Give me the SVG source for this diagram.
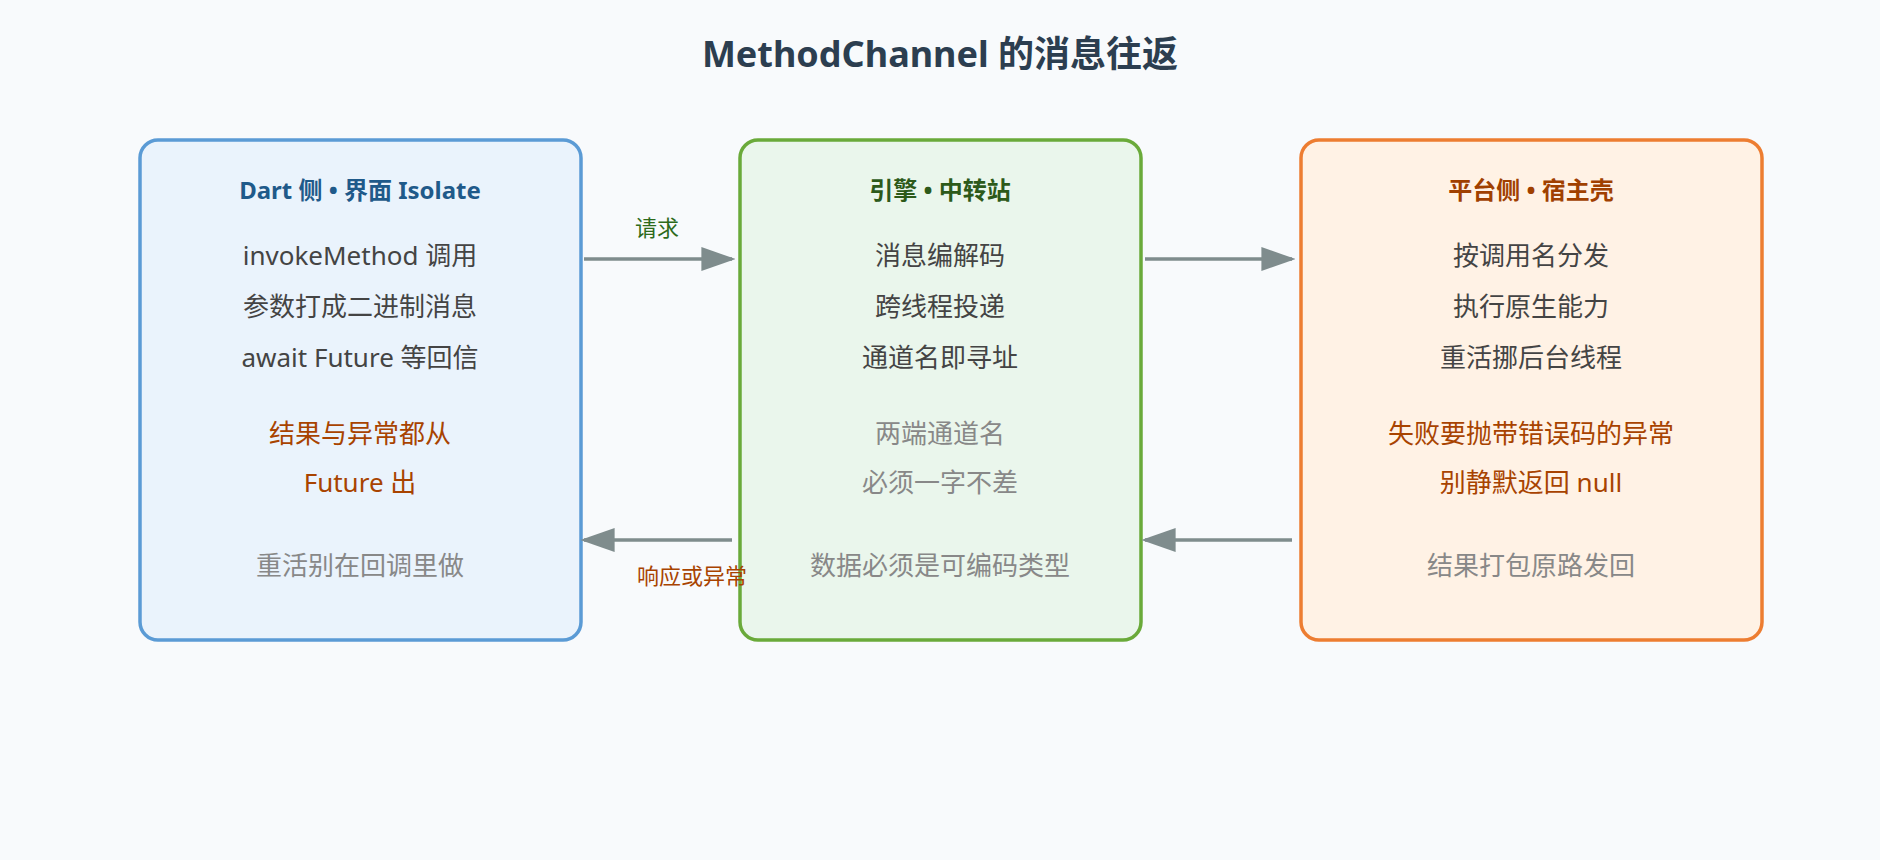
<svg xmlns="http://www.w3.org/2000/svg" width="1880" height="860" viewBox="0 0 1880 860">
<defs>
<marker id="ah" viewBox="0 0 10 10" refX="9" refY="5" markerWidth="10" markerHeight="10" markerUnits="userSpaceOnUse" orient="auto"><path d="M0,0 L10,5 L0,10 z" fill="#7f8c8d"/></marker>
<marker id="ah2" viewBox="0 0 10 10" refX="9" refY="5" markerWidth="34" markerHeight="24" markerUnits="userSpaceOnUse" orient="auto" preserveAspectRatio="none"><path d="M0,0 L10,5 L0,10 z" fill="#7f8c8d"/></marker>
</defs>
<style>
text{font-family:"Noto Sans","Noto Sans CJK SC",sans-serif;text-anchor:middle}
.t{font-size:36px;font-weight:bold;fill:#2c3e50}
.h{font-size:24px;font-weight:bold}
.b{font-size:26px;fill:#444}
.o{font-size:26px;fill:#a84300}
.g{font-size:26px;fill:#888}
.l{font-size:22px}
.c{stroke:#7f8c8d;stroke-width:3.5;fill:none;marker-end:url(#ah2)}
</style>
<rect width="1880" height="860" fill="#f8fafc"/>
<text class="t" x="940" y="67">MethodChannel 的消息往返</text>
<g id="dart">
<rect x="140" y="140" width="441" height="500" rx="18" fill="#eaf3fc" stroke="#5b9bd5" stroke-width="3.5"/>
<text class="h" x="360" y="199" fill="#1f5a8a">Dart 侧 • 界面 Isolate</text>
<text class="b" x="360" y="265">invokeMethod 调用</text>
<text class="b" x="360" y="316">参数打成二进制消息</text>
<text class="b" x="360" y="367">await Future 等回信</text>
<text class="o" x="360" y="443">结果与异常都从</text>
<text class="o" x="360" y="492">Future 出</text>
<text class="g" x="360" y="575">重活别在回调里做</text>
</g>
<g id="engine">
<rect x="740" y="140" width="401" height="500" rx="18" fill="#eaf6ec" stroke="#6aaa3a" stroke-width="3.5"/>
<text class="h" x="940" y="199" fill="#2d5a1a">引擎 • 中转站</text>
<text class="b" x="940" y="265">消息编解码</text>
<text class="b" x="940" y="316">跨线程投递</text>
<text class="b" x="940" y="367">通道名即寻址</text>
<text class="g" x="940" y="443">两端通道名</text>
<text class="g" x="940" y="492">必须一字不差</text>
<text class="g" x="940" y="575">数据必须是可编码类型</text>
</g>
<g id="platform">
<rect x="1301" y="140" width="461" height="500" rx="18" fill="#fff2e5" stroke="#ed7d31" stroke-width="3.5"/>
<text class="h" x="1531" y="199" fill="#a04000">平台侧 • 宿主壳</text>
<text class="b" x="1531" y="265">按调用名分发</text>
<text class="b" x="1531" y="316">执行原生能力</text>
<text class="b" x="1531" y="367">重活挪后台线程</text>
<text class="o" x="1531" y="443">失败要抛带错误码的异常</text>
<text class="o" x="1531" y="492">别静默返回 null</text>
<text class="g" x="1531" y="575">结果打包原路发回</text>
</g>
<g id="connectors">
<line class="c" x1="584" y1="259" x2="732" y2="259"/>
<line class="c" x1="732" y1="540" x2="584" y2="540"/>
<line class="c" x1="1145" y1="259" x2="1292" y2="259"/>
<line class="c" x1="1292" y1="540" x2="1145" y2="540"/>
<text class="l" x="657" y="236" fill="#2d6a1a">请求</text>
<text class="l" x="692" y="584" fill="#a84300">响应或异常</text>
</g>
</svg>
